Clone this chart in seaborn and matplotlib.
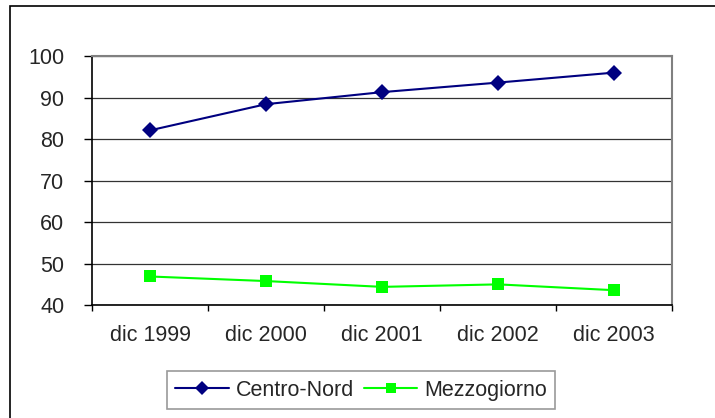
import pandas as pd
import seaborn as sns
import matplotlib.pyplot as plt
from matplotlib.patches import Rectangle

# Data
periods = ['dic 1999', 'dic 2000', 'dic 2001', 'dic 2002', 'dic 2003']
centro_nord = [82.1, 88.4, 91.3, 93.6, 96.0]
mezzogiorno = [46.9, 45.8, 44.4, 45.0, 43.6]

df = pd.DataFrame({
    'pos': list(range(len(periods))) * 2,
    'value': centro_nord + mezzogiorno,
    'serie': ['Centro-Nord'] * len(periods) + ['Mezzogiorno'] * len(periods),
})

sns.set_style('white')
plt.rcParams['font.family'] = ['Liberation Sans', 'DejaVu Sans']
FS = 15.5

fig = plt.figure(figsize=(7.15, 4.18), dpi=100)
ax = fig.add_axes([0.1287, 0.270, 0.8113, 0.596])

# outer chart frame (only left/top edges visible in the reference)
fig.patches.append(Rectangle((0.014, -0.1), 1.2, 1.086, transform=fig.transFigure,
                             fill=False, edgecolor='black', linewidth=1.2))

# horizontal gridlines
for y in range(40, 101, 10):
    ax.axhline(y, color='#333333', linewidth=0.9, zorder=0)

sns.lineplot(data=df, x='pos', y='value', hue='serie', style='serie',
             palette={'Centro-Nord': '#000080', 'Mezzogiorno': '#00FF00'},
             markers={'Centro-Nord': 'D', 'Mezzogiorno': 's'},
             dashes=False, markersize=8.5, linewidth=1.5,
             markeredgewidth=0, ax=ax, legend=False)

ax.set_xlim(-0.5, len(periods) - 0.5)
ax.set_ylim(40, 100)
ax.set_yticks(range(40, 101, 10))
ax.set_xticks(range(len(periods)))
ax.set_xticklabels(periods)
ax.set_xticks([i - 0.5 for i in range(len(periods) + 1)], minor=True)
ax.tick_params(axis='x', which='major', length=0, pad=14, labelsize=FS)
ax.tick_params(axis='x', which='minor', length=4, width=1, color='black', direction='out', bottom=True)
ax.tick_params(axis='y', length=6, width=1, color='black', direction='out', left=True, labelsize=FS, pad=14)
ax.set_xlabel('')
ax.set_ylabel('')

for side in ['left', 'bottom']:
    ax.spines[side].set_color('black')
    ax.spines[side].set_linewidth(1.2)
for side in ['right', 'top']:
    ax.spines[side].set_color('#808080')
    ax.spines[side].set_linewidth(1.5)

# legend
h1 = plt.Line2D([], [], color='#000080', marker='D', markersize=7, markeredgewidth=0, linewidth=1.5)
h2 = plt.Line2D([], [], color='#00FF00', marker='s', markersize=7, markeredgewidth=0, linewidth=1.5)
leg = fig.legend([h1, h2], ['Centro-Nord', 'Mezzogiorno'], loc='lower center',
                 bbox_to_anchor=(0.505, -0.005), ncol=2, fontsize=FS, frameon=True,
                 fancybox=False, edgecolor='#808080', handlelength=2.5,
                 columnspacing=0.45, handletextpad=0.3, borderpad=0.4)
leg.get_frame().set_linewidth(1.2)

fig.savefig('out.png', dpi=100)
